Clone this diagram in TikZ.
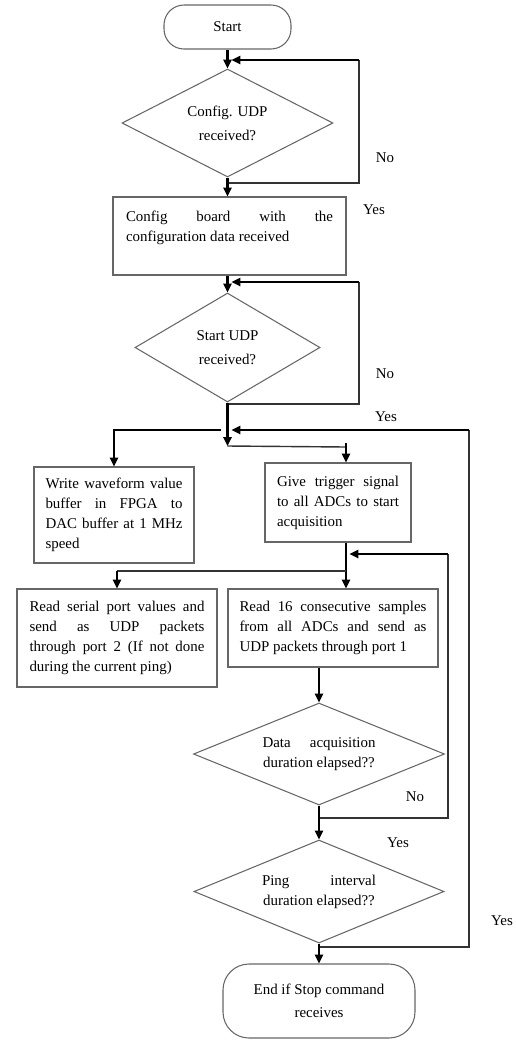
\documentclass[tikz,border=0pt]{standalone}
\usepackage{fontspec}
\setmainfont{Liberation Serif}
\usetikzlibrary{shapes.geometric,arrows.meta}
\newdimen\pxu \pxu=0.02cm
% justified line of a given width, and a left-aligned line of the same width
\newcommand\jline[2]{\makebox[#1\pxu][s]{#2}}
\newcommand\lline[2]{\makebox[#1\pxu][l]{#2}}
\tikzset{
  box/.style={draw=black!60, line width=0.6pt, inner sep=0pt, align=left,
    font=\fontsize{8.5}{11.4}\selectfont},
  term/.style={draw=black!60, line width=0.6pt, inner sep=0pt, align=center,
    font=\fontsize{8.5}{13.1}\selectfont},
  dec/.style={diamond, aspect=2.4, draw=black!60, line width=0.6pt, inner sep=0pt, align=center,
    font=\fontsize{8.5}{11.4}\selectfont},
  decwide/.style={dec, font=\fontsize{8.5}{13.5}\selectfont},
  lbl/.style={inner sep=0pt, font=\fontsize{8.5}{10}\selectfont},
  thk/.style={line width=1.3pt, black, -{Triangle[length=5pt,width=4.6pt]}},
  thn/.style={line width=0.8pt, black!80}
}
\begin{document}
\begin{tikzpicture}[x=0.02cm,y=-0.02cm]
\useasboundingbox (0,0) rectangle (516,1042);

% process steps
\node[term, rounded corners=20\pxu, minimum width=127\pxu, minimum height=44\pxu] (start) at (227.5,27) {Start};
\node[decwide, minimum width=211\pxu, minimum height=108\pxu] (d1) at (227.5,123) {Config. UDP\\received?};
\node[box, minimum width=233\pxu, minimum height=78\pxu] (b1) at (229.5,236)
  {\jline{207}{Config board with the}\\\lline{207}{configuration data received}\\\mbox{}};
\node[decwide, minimum width=185\pxu, minimum height=109\pxu] (d2) at (227.5,347.5) {Start UDP\\received?};
\node[box, minimum width=160\pxu, minimum height=96\pxu] (wave) at (114,515)
  {\jline{137}{Write waveform value}\\\jline{137}{buffer in FPGA to}\\\jline{137}{DAC buffer at 1 MHz}\\\lline{137}{speed}};
\node[box, minimum width=146\pxu, minimum height=79\pxu] (trig) at (338,502.5)
  {\jline{122}{Give trigger signal}\\\jline{122}{to all ADCs to start}\\\lline{122}{acquisition}};
\node[box, minimum width=200\pxu, minimum height=98\pxu] (serial) at (117,638)
  {\jline{175}{Read serial port values and}\\\jline{175}{send as UDP packets}\\\jline{175}{through port 2 (If not done}\\\lline{175}{during the current ping)}};
\node[box, minimum width=210\pxu, minimum height=78\pxu] (read) at (333,628)
  {\jline{187}{Read 16 consecutive samples}\\\jline{187}{from all ADCs and send as}\\\lline{187}{UDP packets through port 1}};
\node[dec, minimum width=251\pxu, minimum height=102\pxu] (d3) at (319,754)
  {\jline{113}{Data acquisition}\\duration elapsed??};
\node[dec, minimum width=250\pxu, minimum height=103\pxu] (d4) at (319,891.5)
  {\jline{114}{Ping interval}\\duration elapsed??};
\node[term, rounded corners=26\pxu, minimum width=192\pxu, minimum height=74\pxu] (stop) at (319,1001)
  {End if Stop command\\receives};

% branch labels
\node[lbl] (no1) at (385,158) {No};
\node[lbl] (yes1) at (374,210) {Yes};
\node[lbl] (no2) at (385,374) {No};
\node[lbl] (yes2) at (386,417) {Yes};
\node[lbl] (no3) at (415,797) {No};
\node[lbl] (yes3) at (398,843) {Yes};
\node[lbl] (yes4) at (502,921) {Yes};

% bend points
\coordinate (l1b) at (359,183);
\coordinate (l1t) at (359,60);
\coordinate (l1in) at (231.5,60);
\coordinate (l2b) at (359,404);
\coordinate (l2t) at (359,282);
\coordinate (l2in) at (231.5,282);
\coordinate (j) at (227.5,446);
\coordinate (jl) at (221,430);
\coordinate (jin) at (231.5,430);
\coordinate (cR) at (346,447);
\coordinate (cRt) at (346,443);
\coordinate (k) at (346,571);
\coordinate (i1) at (448,818);
\coordinate (i2) at (448,554);
\coordinate (iin) at (349.5,554);
\coordinate (o1) at (469,947);
\coordinate (o2) at (469,430);

% configuration stage
\draw[thk] (start) -- (d1);
\draw[thn] (d1.south |- l1b) -- (l1b) -- (l1t);
\draw[thk] (l1t) -- (l1in);
\draw[thk] (d1.south) -- (d1.south |- b1.north);
\draw[thk] (b1.south -| d2.north) -- (d2.north);
\draw[thn] (d2.south |- l2b) -- (l2b) -- (l2t);
\draw[thk] (l2t) -- (l2in);
\draw[thk] (d2.south) -- (j);

% parallel branches
\draw[thk] (jl) -| (wave.north);
\draw[thn] (j) -- (cR);
\draw[thk] (cRt) -- (trig.north -| cRt);
\draw[thk] (trig.south -| cR) -- (read.north -| cR);
\draw[thn] (k) -- (k -| serial.north);
\draw[thk] (k -| serial.north) -- (serial.north);

% acquisition loop
\draw[thk] (read.south -| d3.north) -- (d3.north);
\draw[thn] (d3.south |- i1) -- (i1) -- (i2);
\draw[thk] (i2) -- (iin);
\draw[thk] (d3.south) -- (d4.north);
\draw[thn] (d4.south |- o1) -- (o1) -- (o2);
\draw[thk] (o2) -- (jin);
\draw[thk] (d4.south) -- (stop.north);
\end{tikzpicture}
\end{document}
